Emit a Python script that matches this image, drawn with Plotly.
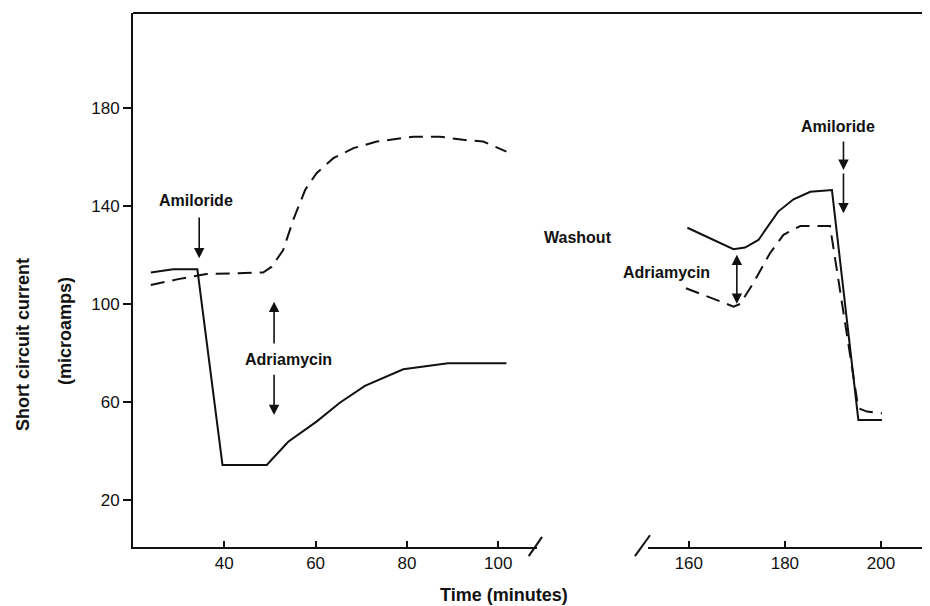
import plotly.graph_objects as go

# ---- data ----
left_time_solid = [23.9, 28.8, 34.1, 39.6, 49.3, 54.0, 60.2, 65.3, 70.8, 79.2, 89.0, 101.8]
left_isc_solid = [112.9, 114.2, 114.2, 34.3, 34.3, 43.8, 52.0, 59.7, 66.6, 73.4, 75.8, 75.8]

left_time_dash = [23.9, 29.9, 36.1, 48.5, 50.4, 52.9, 55.1, 57.7, 60.2, 63.9, 68.3, 73.4, 81.4, 87.2, 92.3, 96.7, 101.8]
left_isc_dash = [107.8, 110.2, 112.3, 112.9, 115.3, 122.1, 134.4, 146.6, 153.5, 159.6, 163.7, 166.4, 168.4, 168.4, 167.1, 166.4, 162.3]

right_time_solid = [159.7, 169.3, 171.7, 174.5, 178.6, 181.8, 185.3, 189.8, 195.3, 200.2]
right_isc_solid = [131.2, 122.4, 123.1, 126.2, 137.8, 142.8, 145.9, 146.6, 52.7, 52.7]

right_time_dash = [159.4, 169.3, 170.7, 173.4, 176.9, 179.7, 183.2, 189.4, 195.3, 197.1, 200.2]
right_isc_dash = [106.5, 99.0, 100.1, 108.5, 120.8, 128.3, 131.9, 131.9, 57.5, 56.1, 55.4]

left_ticks = [40, 60, 80, 100]
right_ticks = [160, 180, 200]
y_ticks = [20, 60, 100, 140, 180]

FONT = "Liberation Sans"
BLACK = "#111111"
DASH = "14px,8px"

fig = go.Figure()
for xs, ys, dash, xa in [
    (left_time_solid, left_isc_solid, "solid", "x"),
    (left_time_dash, left_isc_dash, DASH, "x"),
    (right_time_solid, right_isc_solid, "solid", "x2"),
    (right_time_dash, right_isc_dash, DASH, "x2"),
]:
    fig.add_trace(go.Scatter(x=xs, y=ys, mode="lines", xaxis=xa, yaxis="y",
                             line=dict(color=BLACK, width=2, dash=dash),
                             showlegend=False, hoverinfo="skip"))

axis_common = dict(showline=True, linecolor=BLACK, linewidth=2, showgrid=False,
                   zeroline=False, ticks="inside", ticklen=6, tickwidth=1.5,
                   tickcolor=BLACK, tickfont=dict(family=FONT, size=17, color=BLACK))

# page has an 8px body margin, so the figure is 8px smaller than the window
fig.update_layout(
    width=922, height=598,
    margin=dict(l=125, r=2, t=5, b=59),
    paper_bgcolor="white", plot_bgcolor="white",
    xaxis=dict(domain=[0, 0.5082], range=[20, 108.5], tickvals=left_ticks,
               anchor="y", **axis_common),
    xaxis2=dict(domain=[0.6478, 1], range=[151.5, 209.8], tickvals=right_ticks,
                anchor="y", **axis_common),
    yaxis=dict(range=[0.8, 218.9], tickvals=y_ticks, showline=True, linecolor=BLACK,
               linewidth=2, showgrid=False, zeroline=False, ticks="outside",
               ticklen=8, tickwidth=1.5, tickcolor=BLACK,
               tickfont=dict(family=FONT, size=17, color=BLACK)),
    font=dict(family=FONT, color=BLACK),
)

# frame lines (top, right) and axis break marks
shapes = [
    dict(type="line", xref="paper", yref="paper", x0=0, x1=1, y0=1, y1=1,
         line=dict(color=BLACK, width=2)),
    dict(type="line", xref="paper", yref="paper", x0=1, x1=1, y0=0, y1=1,
         line=dict(color=BLACK, width=2)),
    dict(type="line", xref="paper", yref="paper", x0=0.4978, x1=0.5145,
         y0=-0.017, y1=0.019, line=dict(color=BLACK, width=2)),
    dict(type="line", xref="paper", yref="paper", x0=0.6314, x1=0.6503,
         y0=-0.017, y1=0.022, line=dict(color=BLACK, width=2)),
]
fig.update_layout(shapes=shapes)

ann = []
def arrow(x, y, ax, ay, xref="x", side="end"):
    ann.append(dict(x=x, y=y, ax=ax, ay=ay, xref=xref, yref="y", axref=xref, ayref="y",
                    text="", showarrow=True, arrowhead=2, arrowsize=1.3, arrowwidth=1.6,
                    arrowcolor=BLACK, arrowside=side))

def label(text, x, y, xref="x", yref="y", size=16, angle=0, bold=True):
    ann.append(dict(x=x, y=y, xref=xref, yref=yref, text=f"<b>{text}</b>" if bold else text,
                    showarrow=False, textangle=angle,
                    font=dict(family=FONT, size=size, color=BLACK),
                    xanchor="center", yanchor="middle"))

# left panel
label("Amiloride", 33.9, 142.5)
arrow(34.5, 118.7, 34.5, 136.0)
label("Adriamycin", 54.0, 77.2)
arrow(50.9, 101.0, 50.9, 83.3)
arrow(50.9, 54.7, 50.9, 71.8)

# gap / right panel
label("Washout", 0.5597, 127.3, xref="paper")
label("Adriamycin", 155.4, 112.9, xref="x2")
arrow(170.0, 100.1, 170.0, 120.8, xref="x2", side="end+start")
label("Amiloride", 191.0, 172.5, xref="x2")
arrow(192.2, 154.8, 192.2, 167.0, xref="x2")
arrow(192.2, 137.1, 192.2, 154.0, xref="x2")

# axis titles
label("Short circuit current", -0.1384, 0.380, xref="paper", yref="paper", size=18, angle=-90)
label("(microamps)", -0.0855, 0.4045, xref="paper", yref="paper", size=18, angle=-90)
label("Time (minutes)", 0.4667, -0.0899, xref="paper", yref="paper", size=18)

fig.update_layout(annotations=ann)

fig.write_html("out.html")
